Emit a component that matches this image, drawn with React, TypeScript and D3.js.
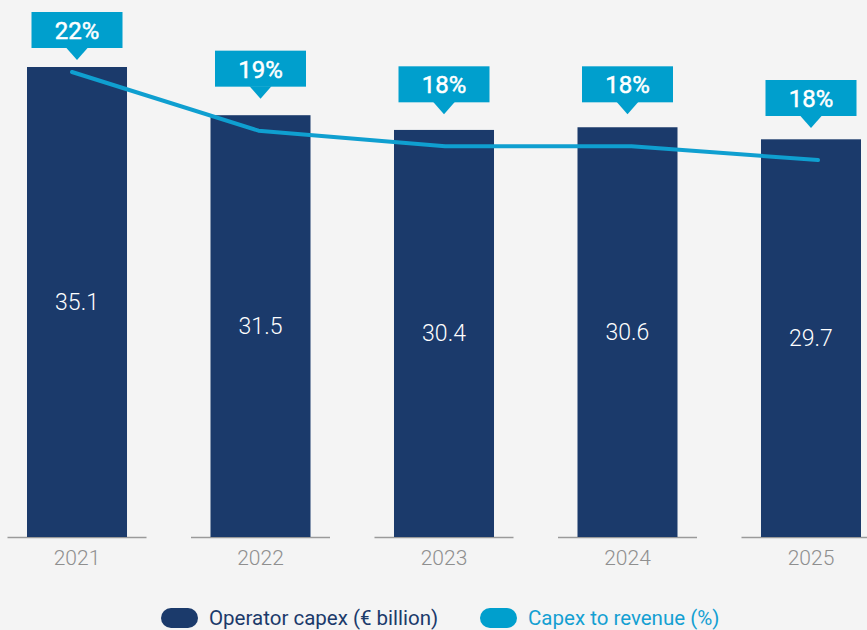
import React from 'react';
import * as d3 from 'd3';

const years = ['2021', '2022', '2023', '2024', '2025'];
const capex = [35.1, 31.5, 30.4, 30.6, 29.7];
const ratio = [22, 19, 18.2, 18.2, 17.5];
const ratioLabels = ['22%', '19%', '18%', '18%', '18%'];
const legendLabels = ['Operator capex (€ billion)', 'Capex to revenue (%)'];

const W = 867;
const H = 630;
const BG = '#f4f4f4';
const NAVY = '#1b3a6b';
const CYAN = '#009fcd';
const FONT = 'Roboto, "Open Sans", sans-serif';

export default function App() {
  const x = d3.scaleBand<string>().domain(years).range([27, 861]).paddingInner(0.455).paddingOuter(0);
  const y = d3.scaleLinear().domain([0, 35.1]).range([537, 67]);
  const xl = d3.scalePoint<string>().domain(years).range([72, 818]);
  const yl = d3.scaleLinear().domain([17.5, 22]).range([160, 72]);
  const line = d3.line<number>().x((_, i) => xl(years[i])!).y((d) => yl(d));
  const bw = x.bandwidth();
  const segW = 139;
  const boxW = 91, boxH = 36, ptrH = 12, ptrW = 11;

  return (
    <svg width={W} height={H} style={{ position: 'absolute', left: 0, top: 0, background: BG }} fontFamily={FONT}>
      <rect x={0} y={0} width={W} height={H} fill={BG} />
      {years.map((yr) => {
        const cx = x(yr)! + bw / 2;
        return <line key={'ax' + yr} x1={cx - segW / 2} x2={cx + segW / 2} y1={537.5} y2={537.5} stroke="#9a9a9a" strokeWidth={1.5} />;
      })}
      {years.map((yr, i) => (
        <rect key={'b' + yr} x={x(yr)} y={y(capex[i])} width={bw} height={y(0) - y(capex[i])} fill={NAVY} />
      ))}
      {years.map((yr, i) => (
        <text key={'v' + yr} x={x(yr)! + bw / 2} y={(y(capex[i]) + y(0)) / 2} textAnchor="middle" dominantBaseline="central" fill="#ffffff" fontSize={23} fontWeight={300}>
          {capex[i].toFixed(1)}
        </text>
      ))}
      {years.map((yr) => (
        <text key={'yl' + yr} x={x(yr)! + bw / 2} y={565} textAnchor="middle" fill="#8f8f8f" fontSize={21} fontWeight={300}>
          {yr}
        </text>
      ))}
      <path d={line(ratio)!} fill="none" stroke="#0f9fd0" strokeWidth={4} strokeLinecap="round" strokeLinejoin="round" />
      {years.map((yr, i) => {
        const cx = x(yr)! + bw / 2;
        const tip = Math.max(yl(ratio[i]) - 32, 12 + boxH + ptrH);
        const top = tip - ptrH - boxH;
        return (
          <g key={'c' + yr}>
            <rect x={cx - boxW / 2} y={top} width={boxW} height={boxH} fill={CYAN} />
            <path d={`M${cx - ptrW},${top + boxH - 0.5} L${cx + ptrW},${top + boxH - 0.5} L${cx},${tip} Z`} fill={CYAN} />
            <text x={cx} y={top + boxH / 2 + 1} textAnchor="middle" dominantBaseline="central" fill="#ffffff" fontSize={24} fontWeight={400} stroke="#ffffff" strokeWidth={0.5}>
              {ratioLabels[i]}
            </text>
          </g>
        );
      })}
      <g>
        <rect x={161} y={608} width={37} height={20} rx={10} fill={NAVY} />
        <text x={209} y={618} dominantBaseline="central" fill={NAVY} fontSize={20.5}>{legendLabels[0]}</text>
        <rect x={480} y={608} width={37} height={20} rx={10} fill={CYAN} />
        <text x={528} y={618} dominantBaseline="central" fill="#14a0d2" fontSize={20.5}>{legendLabels[1]}</text>
      </g>
    </svg>
  );
}
